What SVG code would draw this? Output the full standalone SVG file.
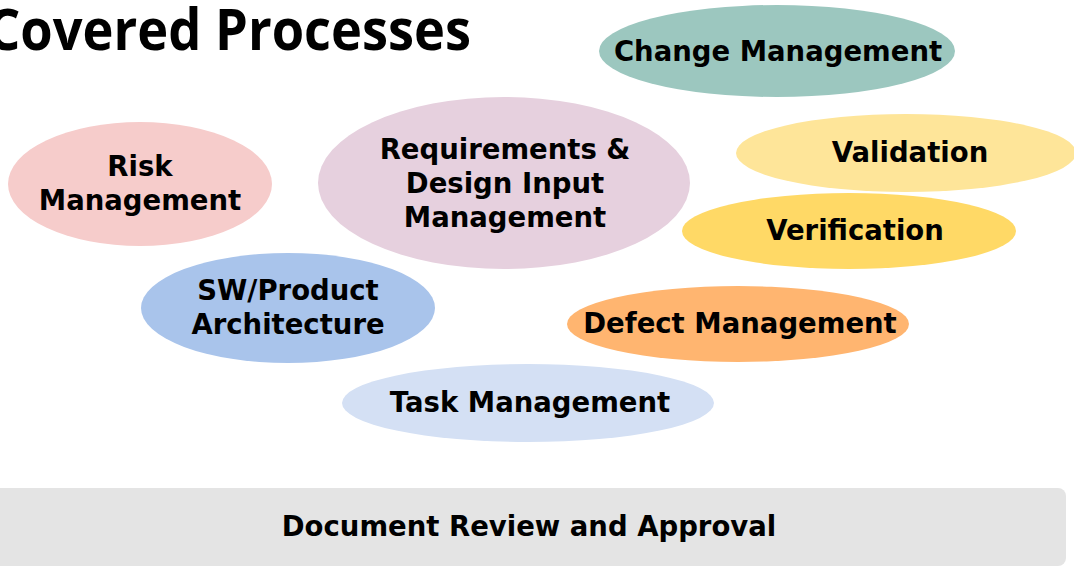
<svg xmlns="http://www.w3.org/2000/svg" width="1074" height="567" viewBox="0 0 1074 567">
<style>
.lbl{font-family:"DejaVu Sans",sans-serif;font-weight:bold;font-size:27.5px;fill:#000;text-anchor:middle}
.title{font-family:"Open Sans","Liberation Sans",sans-serif;font-weight:bold;font-size:57px;fill:#000}
</style>
<rect width="1074" height="567" fill="#fff"/>
<text class="title" x="-13" y="50" textLength="484" lengthAdjust="spacingAndGlyphs">Covered Processes</text>
<g id="change"><ellipse cx="777" cy="51" rx="178" ry="46" fill="#9cc7bf"/><text class="lbl" x="778" y="61">Change Management</text></g>
<g id="risk"><ellipse cx="140" cy="184" rx="132" ry="62" fill="#f6cccb"/><text class="lbl" x="140" y="176">Risk</text><text class="lbl" x="140" y="210">Management</text></g>
<g id="requirements"><ellipse cx="504" cy="183" rx="186" ry="86" fill="#e6d0de"/><text class="lbl" x="505" y="159">Requirements &amp;</text><text class="lbl" x="505" y="193">Design Input</text><text class="lbl" x="505" y="227">Management</text></g>
<g id="validation"><ellipse cx="906" cy="153" rx="170" ry="39" fill="#fee599"/><text class="lbl" x="910" y="162">Validation</text></g>
<g id="verification"><ellipse cx="849" cy="231" rx="167" ry="38" fill="#ffd966"/><text class="lbl" x="855" y="240">Verification</text></g>
<g id="sw"><ellipse cx="288" cy="308" rx="147" ry="55" fill="#a9c4eb"/><text class="lbl" x="288" y="300">SW/Product</text><text class="lbl" x="288" y="334">Architecture</text></g>
<g id="defect"><ellipse cx="738" cy="324" rx="171" ry="38" fill="#ffb570"/><text class="lbl" x="740" y="333">Defect Management</text></g>
<g id="task"><ellipse cx="528" cy="403" rx="186" ry="39" fill="#d4e0f4"/><text class="lbl" x="530" y="412">Task Management</text></g>
<g id="document"><rect x="-10" y="488" width="1076" height="78" rx="8" fill="#e4e4e4"/><text class="lbl" x="529" y="536">Document Review and Approval</text></g>
<g id="connectors"/>
</svg>
